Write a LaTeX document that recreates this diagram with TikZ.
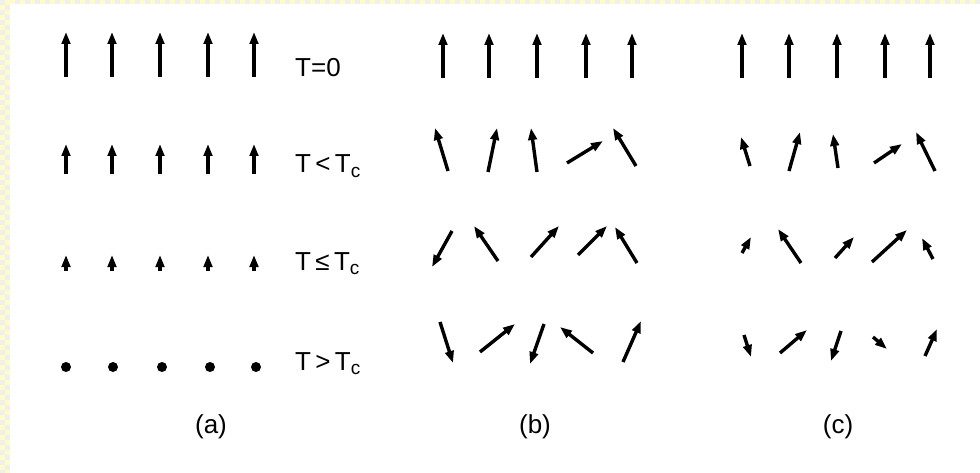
\documentclass[tikz,border=0pt]{standalone}
\usepackage{fontspec}
\setmainfont{Liberation Sans}
\usetikzlibrary{arrows.meta}
\definecolor{checkyellow}{RGB}{255,251,205}
\definecolor{checkgray}{RGB}{240,240,234}
\newcommand{\subc}{\raisebox{-0.3ex}{\fontsize{19}{19}\selectfont c}}
\tikzset{
  spin/.style={line width=3.4pt, -{Triangle[length=12pt,width=8.5pt]}},
  dot/.style={circle, fill, inner sep=0pt, minimum size=10pt},
  templabel/.style={font=\fontsize{26}{30}\selectfont, anchor=base west, inner sep=0pt},
  caselabel/.style={font=\fontsize{26}{30}\selectfont, inner sep=0pt}
}

\begin{document}
\begin{tikzpicture}[x=1pt,y=-1pt]
  \useasboundingbox (0,0) rectangle (980,473);
  \fill[white] (0,0) rectangle (980,473);
  \fill[checkyellow] (0,0) rectangle (10,473);
  \fill[checkyellow] (10,0) rectangle (980,4);
  \foreach \j in {0,2,...,94} \fill[checkgray] (0,\j*5) rectangle (5,\j*5+5);
  \foreach \j in {1,3,...,93} \fill[checkgray] (5,\j*5) rectangle (10,\j*5+5);
  \foreach \i in {3,5,...,195} \fill[checkgray] (\i*5,0) rectangle (\i*5+5,4);

  % (a)
  \foreach \x in {66,112,160,208,254} {
    \draw[spin] (\x,77) -- (\x,32);
    \draw[spin] (\x,174) -- (\x,144);
    \draw[spin] (\x,271) -- (\x,255);
  }
  \foreach \x [count=\n] in {66,113,162,210,256}
    \node[dot] (d\n) at (\x,367) {};

  % (b) and (c), top row
  \foreach \x in {443,489,537,586,632,742,789,837,885,930}
    \draw[spin] (\x,78) -- (\x,33);

  % (b)
  \foreach \ax/\ay/\bx/\by in {448/171/435/128, 488/172/497/128, 537/172/531/128,
      567/163/603/141, 636/166/613/128,
      452/231/432/267, 498/261/474/226, 531/257/559/226, 578/255/607/226, 637/263/615/227,
      440/322/453/363, 480/352/515/324, 544/324/530/364, 593/353/560/327, 623/362/641/321}
    \draw[spin] (\ax,\ay) -- (\bx,\by);

  % (c)
  \foreach \ax/\ay/\bx/\by in {750/166/741/137, 789/171/800/132, 838/168/833/134,
      874/163/902/144, 935/171/916/132,
      742/253/751/237, 801/263/778/229, 835/258/854/237, 872/262/907/230, 933/259/922/238,
      744/335/751/357, 780/353/807/330, 841/331/831/361, 873/337/887/349, 925/356/937/329}
    \draw[spin] (\ax,\ay) -- (\bx,\by);

  \node[templabel] (t0) at (295,77) {T=0};
  \node[templabel] (tlt) at (295,173) {T\,<\,T\subc};
  \node[templabel] (tle) at (295,270) {T\,≤\,T\subc};
  \node[templabel] (tgt) at (295,370) {T\,>\,T\subc};

  \node[caselabel] (ca) at (211,427) {(a)};
  \node[caselabel] (cb) at (535,427) {(b)};
  \node[caselabel] (cc) at (838,427) {(c)};
\end{tikzpicture}
\end{document}
